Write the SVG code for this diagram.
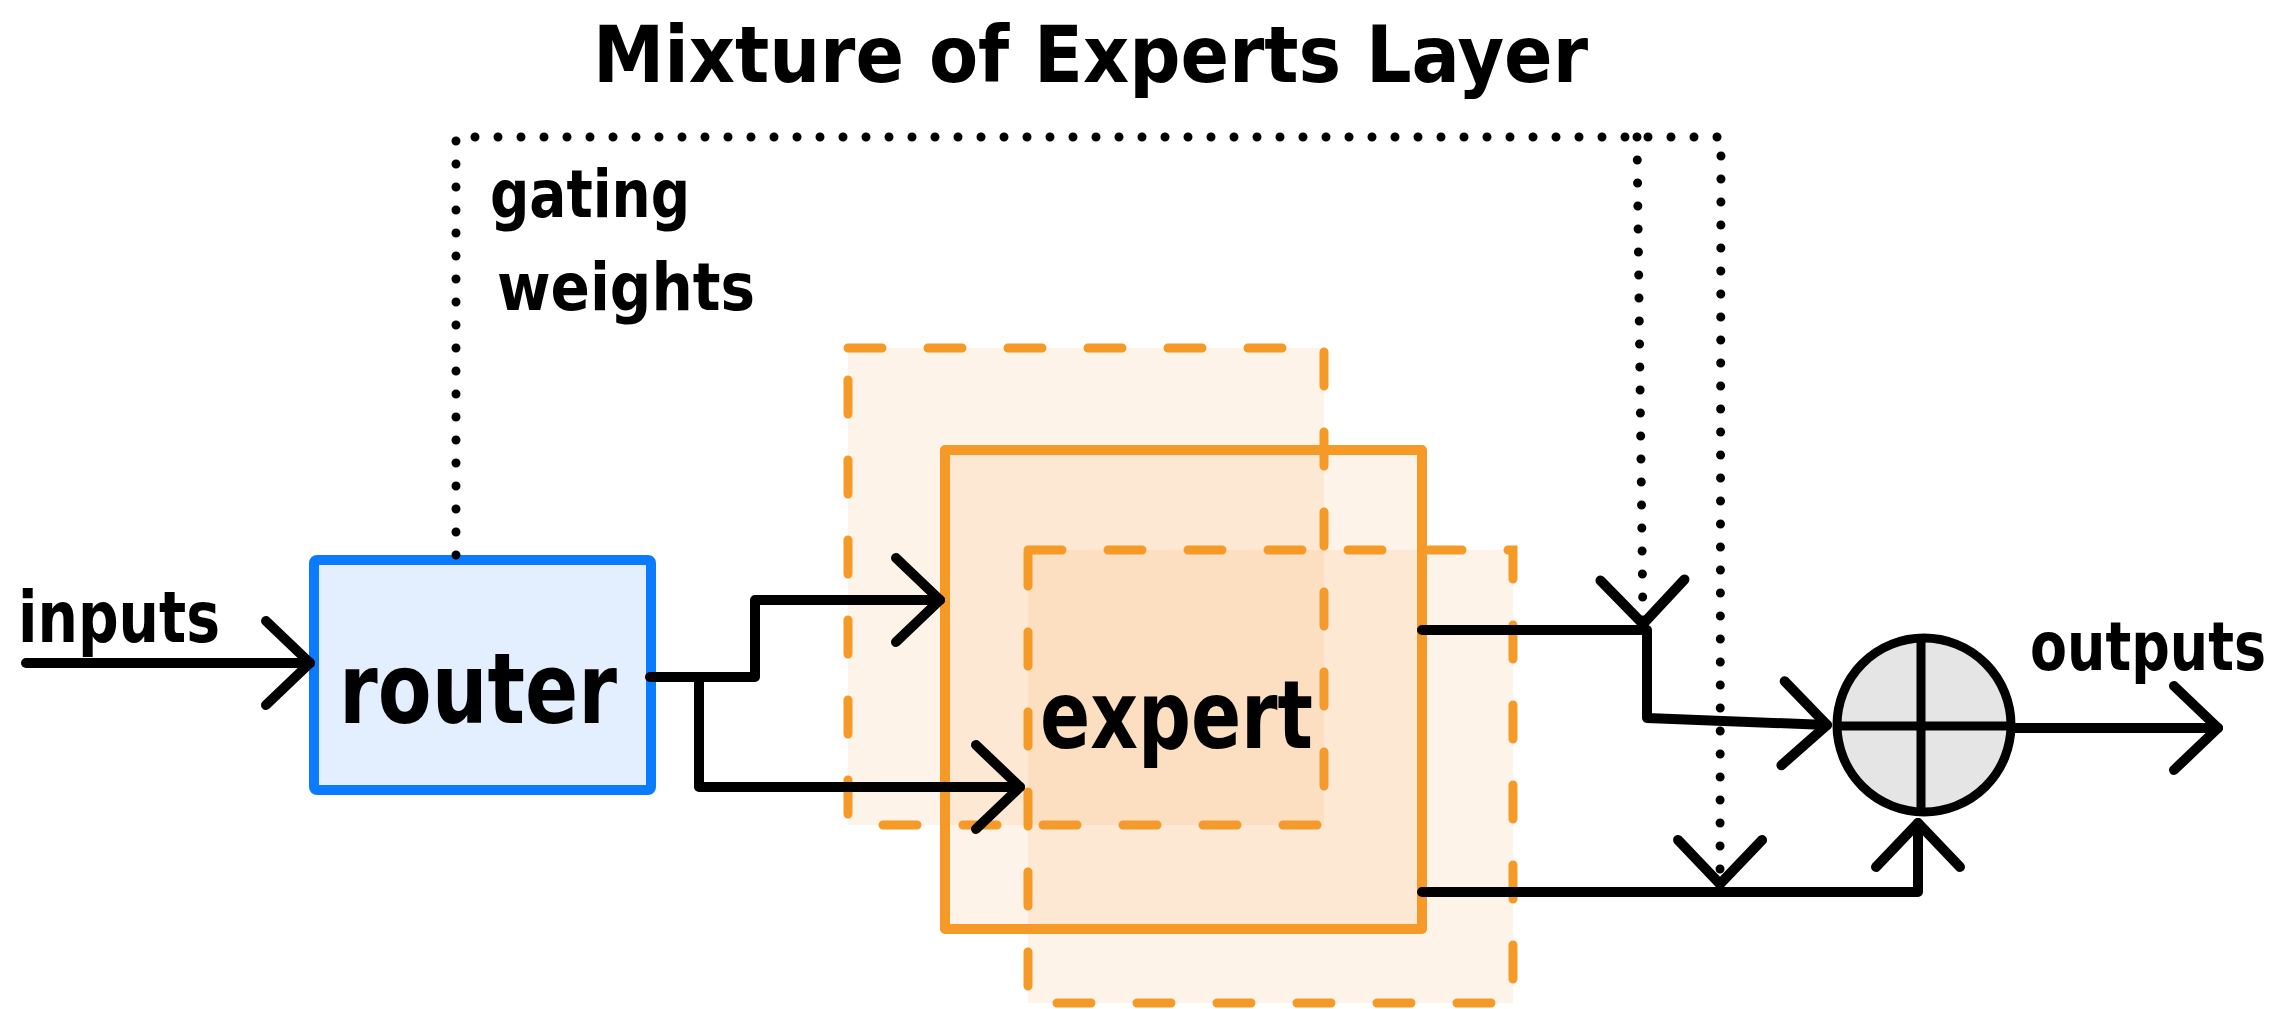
<svg xmlns="http://www.w3.org/2000/svg" width="2295" height="1009" viewBox="0 0 2295 1009">
  <style>
    .lbl { font-family: "DejaVu Sans Condensed", "DejaVu Sans", sans-serif; font-weight: bold; fill: #000; }
    .wire { fill: none; stroke: #000; stroke-width: 10; stroke-linecap: round; stroke-linejoin: round; }
    .dots { fill: none; stroke: #000; stroke-width: 9; stroke-linecap: round; stroke-dasharray: 0 23; }
    .head { fill: none; stroke: #000; stroke-width: 10; stroke-linecap: round; stroke-linejoin: round; }
    .exp-fill { fill: #f5a040; fill-opacity: 0.12; }
    .exp-dash { fill: none; stroke: #f59a26; stroke-width: 9; stroke-linecap: round; stroke-dasharray: 34 46; }
    .exp-solid { fill: #f5a040; fill-opacity: 0.12; stroke: #f59a26; stroke-width: 10; stroke-linejoin: round; }
  </style>
  <defs>
    <!-- open chevron arrowhead used on every connector -->
    <marker id="chev" markerUnits="userSpaceOnUse" viewBox="-60 -60 70 120" markerWidth="70" markerHeight="120" refX="0" refY="0" orient="auto" overflow="visible">
      <path class="head" d="M-44,-42 L0,0 L-44,42"/>
    </marker>
  </defs>

  <rect width="2295" height="1009" fill="#fff"/>

  <text class="lbl" x="593" y="82" font-size="78" textLength="995" lengthAdjust="spacingAndGlyphs">Mixture of Experts Layer</text>

  <!-- expert stack: back copy, main expert, front copy -->
  <g id="expert-back">
    <rect class="exp-fill" x="848" y="348" width="476" height="477"/>
    <rect class="exp-dash" x="848" y="348" width="476" height="477"/>
  </g>
  <g id="expert">
    <rect class="exp-solid" x="945" y="450" width="477" height="479"/>
  </g>
  <g id="expert-front">
    <rect class="exp-fill" x="1028" y="550" width="485" height="453"/>
    <rect class="exp-dash" x="1028" y="550" width="485" height="453"/>
  </g>
  <text class="lbl" x="1040" y="748" font-size="95" textLength="273" lengthAdjust="spacingAndGlyphs">expert</text>

  <g id="router">
    <rect x="314" y="560" width="337" height="230" rx="3" fill="#e3efff" stroke="#0a7bff" stroke-width="10"/>
    <text class="lbl" x="339" y="723" font-size="98" textLength="278" lengthAdjust="spacingAndGlyphs">router</text>
  </g>

  <g id="sum">
    <circle cx="1924" cy="725" r="87" fill="#e5e5e5" stroke="#000" stroke-width="9"/>
    <line x1="1921" y1="640" x2="1921" y2="812" stroke="#000" stroke-width="9"/>
    <line x1="1839" y1="726" x2="2009" y2="726" stroke="#000" stroke-width="9"/>
  </g>

  <g id="connectors">
    <path class="wire" d="M26,663 L310,663" marker-end="url(#chev)"/>
    <path class="wire" d="M650,677 L755,677 L755,600 L940,600" marker-end="url(#chev)"/>
    <path class="wire" d="M699,677 L699,787 L1020,787" marker-end="url(#chev)"/>
    <path class="wire" d="M1422,630 L1647,630 L1647,718 L1827,725" marker-end="url(#chev)"/>
    <path class="wire" d="M1422,892 L1918,892 L1918,823" marker-end="url(#chev)"/>
    <path class="wire" d="M2015,728 L2218,728" marker-end="url(#chev)"/>
    <path class="dots" d="M456,555 L456,137 L1721,137 L1720,884" marker-end="url(#chev)"/>
    <path class="dots" d="M1637,137 L1643,624" marker-end="url(#chev)"/>
  </g>

  <text class="lbl" x="18" y="642" font-size="72" textLength="202" lengthAdjust="spacingAndGlyphs">inputs</text>
  <text class="lbl" x="2030" y="670" font-size="68" textLength="236" lengthAdjust="spacingAndGlyphs">outputs</text>
  <text class="lbl" x="490" y="217" font-size="66" textLength="200" lengthAdjust="spacingAndGlyphs">gating</text>
  <text class="lbl" x="497" y="310" font-size="66" textLength="258" lengthAdjust="spacingAndGlyphs">weights</text>
</svg>
